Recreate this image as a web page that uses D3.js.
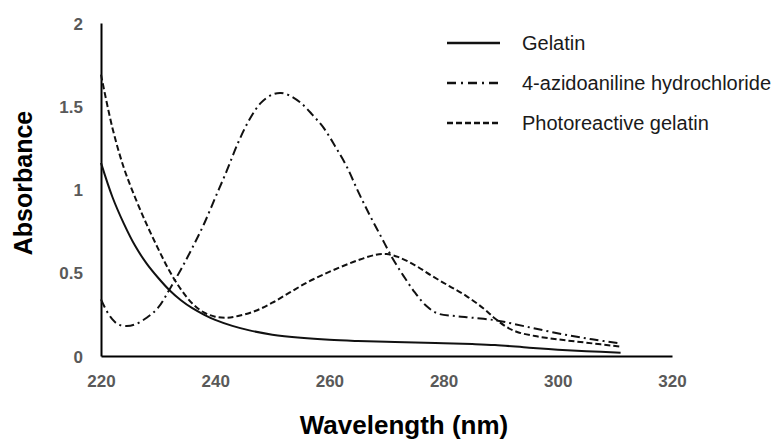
<!DOCTYPE html>
<html>
<head>
<meta charset="utf-8">
<script src="https://cdn.jsdelivr.net/npm/d3@7"></script>
<style>
  html, body { margin: 0; padding: 0; background: #fff; }
  svg { display: block; font-family: "Liberation Sans", Arial, sans-serif; }
</style>
</head>
<body>
<svg id="chart" width="778" height="441"></svg>
<script>
// ---- data ----
const seriesNames = ["Gelatin", "4-azidoaniline hydrochloride", "Photoreactive gelatin"];

const gelatinWl  = [220, 222, 224, 226, 228, 230, 232, 234, 236, 238, 240, 243, 246, 250, 255, 260, 265, 270, 275, 280, 285, 289, 295, 300, 305, 311];
const gelatinAbs = [1.16, 0.955, 0.795, 0.66, 0.555, 0.47, 0.395, 0.335, 0.287, 0.249, 0.217, 0.181, 0.154, 0.128, 0.109, 0.097, 0.09, 0.085, 0.081, 0.077, 0.072, 0.066, 0.05, 0.038, 0.029, 0.02];

const azidoWl  = [220, 221, 222, 223, 224.5, 226, 228, 230, 232, 234, 236, 238, 240, 242, 244, 246, 248, 250, 251.5, 253, 255, 257, 259, 261, 263, 265, 267, 269, 271, 273, 275, 277, 279, 282, 285, 289, 292, 296, 301, 306, 311];
const azidoAbs = [0.34, 0.27, 0.22, 0.19, 0.18, 0.19, 0.23, 0.29, 0.40, 0.52, 0.65, 0.79, 0.95, 1.11, 1.28, 1.42, 1.52, 1.57, 1.58, 1.565, 1.52, 1.45, 1.37, 1.26, 1.14, 0.99, 0.85, 0.72, 0.59, 0.48, 0.38, 0.30, 0.255, 0.24, 0.23, 0.215, 0.195, 0.165, 0.13, 0.10, 0.075];

const photoWl  = [220, 222, 224, 226, 228, 230, 232, 234, 236, 238, 240, 242, 244, 247, 250, 253, 256, 259, 262, 265, 268, 270, 272, 275, 278, 281, 284, 287, 289, 291, 293, 296, 300, 305, 311];
const photoAbs = [1.69, 1.37, 1.13, 0.95, 0.79, 0.645, 0.51, 0.40, 0.315, 0.262, 0.236, 0.23, 0.24, 0.27, 0.32, 0.38, 0.44, 0.49, 0.535, 0.575, 0.607, 0.612, 0.595, 0.545, 0.48, 0.42, 0.36, 0.285, 0.225, 0.175, 0.143, 0.12, 0.10, 0.08, 0.056];

const xTicks = [220, 240, 260, 280, 300, 320];
const xTickLabels = ["220", "240", "260", "280", "300", "320"];
const yTicks = [0, 0.5, 1, 1.5, 2];
const yTickLabels = ["0", "0.5", "1", "1.5", "2"];

// ---- layout ----
const svg = d3.select("#chart");
const x = d3.scaleLinear().domain([220, 320]).range([101, 672]);
const y = d3.scaleLinear().domain([0, 2]).range([356, 23]);

const tickColor = "#595959";

// axes
const xAxis = svg.append("g")
  .attr("transform", `translate(0,${y(0)})`)
  .call(d3.axisBottom(x).tickValues(xTicks).tickSize(0).tickSizeOuter(0)
    .tickFormat((d, i) => xTickLabels[i]));
xAxis.select(".domain").attr("stroke", "#000").attr("stroke-width", 2);
xAxis.selectAll(".tick text")
  .attr("y", 31).attr("dy", 0)
  .attr("fill", tickColor)
  .style("font-size", "17px").style("font-weight", "bold")
  .style("font-family", "'Liberation Sans', Arial, sans-serif");

const yAxis = svg.append("g")
  .attr("transform", `translate(${x(220)},0)`)
  .call(d3.axisLeft(y).tickValues(yTicks).tickSize(0).tickSizeOuter(0)
    .tickFormat((d, i) => yTickLabels[i]));
yAxis.select(".domain").attr("stroke", "#000").attr("stroke-width", 2);
yAxis.selectAll(".tick text")
  .attr("x", -18).attr("dy", "0.36em")
  .attr("fill", tickColor)
  .style("font-size", "17px").style("font-weight", "bold")
  .style("font-family", "'Liberation Sans', Arial, sans-serif");

// axis titles
svg.append("text")
  .attr("transform", `translate(32,183) rotate(-90)`)
  .attr("text-anchor", "middle")
  .attr("fill", "#000")
  .style("font-size", "25px").style("font-weight", "bold")
  .text("Absorbance");

svg.append("text")
  .attr("x", 404).attr("y", 434)
  .attr("text-anchor", "middle")
  .attr("fill", "#000")
  .style("font-size", "26px").style("font-weight", "bold")
  .text("Wavelength (nm)");

// lines
const line = d3.line().x(d => x(d[0])).y(d => y(d[1])).curve(d3.curveCatmullRom.alpha(0.5));
const styles = [
  { wl: gelatinWl, ab: gelatinAbs, dash: null },
  { wl: azidoWl, ab: azidoAbs, dash: "9,4,2,4" },
  { wl: photoWl, ab: photoAbs, dash: "6,3" }
];
styles.forEach(s => {
  const pts = s.wl.map((w, i) => [w, s.ab[i]]);
  svg.append("path")
    .datum(pts)
    .attr("d", line)
    .attr("fill", "none")
    .attr("stroke", "#111")
    .attr("stroke-width", 2)
    .attr("stroke-dasharray", s.dash);
});

// legend
const legendY = [43, 83, 123];
const legendDash = [null, "9,5,2,5", "6,3"];
seriesNames.forEach((name, i) => {
  svg.append("line")
    .attr("x1", 447).attr("x2", 500)
    .attr("y1", legendY[i]).attr("y2", legendY[i])
    .attr("stroke", "#111").attr("stroke-width", 2.5)
    .attr("stroke-dasharray", legendDash[i]);
  svg.append("text")
    .attr("x", 522).attr("y", legendY[i])
    .attr("dy", "0.35em")
    .attr("fill", "#1a1a1a")
    .style("font-size", "20px")
    .text(name);
});
</script>
</body>
</html>
